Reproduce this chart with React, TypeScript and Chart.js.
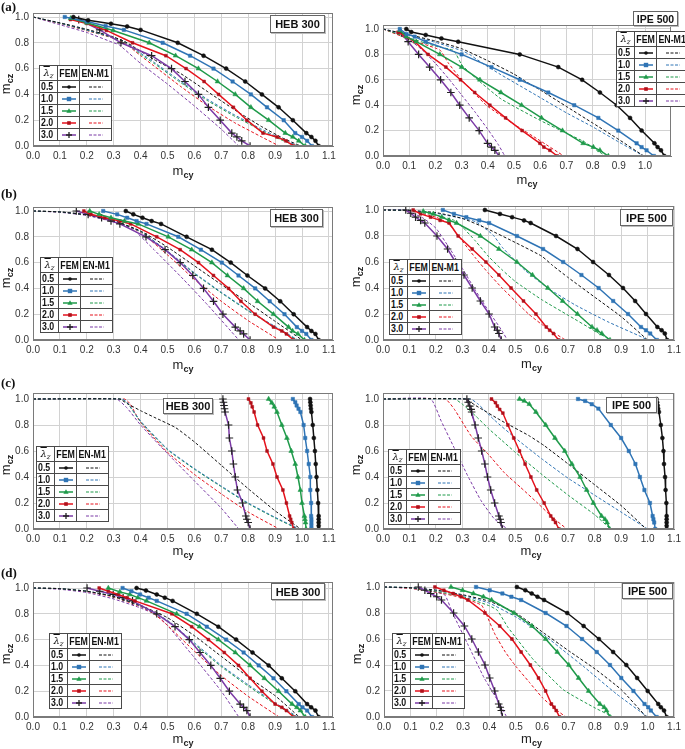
import React, { useEffect, useRef } from "react";
import { Chart, registerables } from "chart.js";
Chart.register(...registerables);

type Pt = [number, number];

const LAMBDAS = ["0.5", "1.0", "1.5", "2.0", "3.0"];
const COLORS = ["#111111", "#2f74b5", "#1f9a4a", "#e5121c", "#7b3aa6"];
const X_STEP = 0.1;
const Y_STEP = 0.2;

// ---------- (a) HEB 300 ----------
const femA_HEB: Pt[][] = [
  [[0.15,1.0],[0.205,0.974],[0.29,0.948],[0.35,0.927],[0.40,0.90],[0.538,0.80],[0.634,0.70],[0.718,0.60],[0.789,0.50],[0.851,0.40],[0.913,0.30],[0.966,0.20],[1.016,0.10],[1.035,0.07],[1.05,0.04],[1.062,0.0]],
  [[0.118,1.0],[0.2,0.965],[0.27,0.93],[0.338,0.90],[0.482,0.80],[0.584,0.70],[0.671,0.60],[0.742,0.50],[0.81,0.40],[0.87,0.30],[0.932,0.20],[0.975,0.10],[1.0,0.07],[1.019,0.04],[1.037,0]],
  [[0.14,0.99],[0.2,0.955],[0.298,0.896],[0.432,0.80],[0.53,0.70],[0.615,0.60],[0.686,0.50],[0.752,0.40],[0.81,0.30],[0.876,0.20],[0.938,0.10],[0.966,0.07],[0.988,0.04],[1.012,0]],
  [[0.139,0.98],[0.2,0.95],[0.273,0.896],[0.37,0.80],[0.494,0.70],[0.569,0.60],[0.636,0.50],[0.69,0.40],[0.745,0.30],[0.795,0.20],[0.855,0.10],[0.907,0.07],[0.94,0.04],[0.969,0]],
  [[0.17,0.98],[0.248,0.90],[0.327,0.80],[0.441,0.70],[0.515,0.60],[0.565,0.50],[0.615,0.40],[0.652,0.30],[0.696,0.20],[0.739,0.10],[0.758,0.07],[0.776,0.04],[0.807,0]],
];
const enA_HEB: Pt[][] = [
  [[0,1],[0.1,0.955],[0.2,0.905],[0.3,0.845],[0.35,0.80],[0.45,0.67],[0.55,0.56],[0.65,0.42],[0.75,0.28],[0.85,0.15],[0.93,0.06],[0.995,0]],
  [[0,1],[0.1,0.953],[0.2,0.9],[0.3,0.84],[0.34,0.81],[0.4,0.72],[0.45,0.65],[0.55,0.50],[0.65,0.36],[0.75,0.24],[0.85,0.13],[0.92,0.06],[0.985,0]],
  [[0,1],[0.1,0.952],[0.2,0.898],[0.3,0.838],[0.34,0.805],[0.4,0.71],[0.45,0.64],[0.55,0.49],[0.65,0.35],[0.75,0.23],[0.85,0.12],[0.92,0.05],[0.98,0]],
  [[0,1],[0.1,0.95],[0.2,0.895],[0.3,0.835],[0.34,0.80],[0.4,0.70],[0.45,0.62],[0.55,0.46],[0.65,0.31],[0.75,0.18],[0.85,0.07],[0.915,0]],
  [[0,1],[0.1,0.94],[0.2,0.88],[0.3,0.80],[0.32,0.785],[0.4,0.64],[0.5,0.48],[0.6,0.31],[0.7,0.13],[0.765,0]],
];

// ---------- (a) IPE 500 ----------
const femA_IPE: Pt[][] = [
  [[0.089,1.0],[0.108,0.976],[0.163,0.953],[0.223,0.926],[0.287,0.90],[0.522,0.80],[0.669,0.70],[0.76,0.60],[0.828,0.50],[0.892,0.40],[0.943,0.30],[0.987,0.20],[1.036,0.10],[1.048,0.07],[1.061,0.045],[1.074,0]],
  [[0.064,1.0],[0.09,0.96],[0.121,0.94],[0.163,0.90],[0.30,0.80],[0.414,0.70],[0.522,0.60],[0.631,0.50],[0.73,0.40],[0.822,0.30],[0.898,0.20],[0.968,0.10],[0.987,0.07],[1.006,0.045],[1.034,0]],
  [[0.064,0.99],[0.089,0.94],[0.127,0.90],[0.217,0.80],[0.30,0.70],[0.37,0.60],[0.45,0.50],[0.529,0.40],[0.605,0.30],[0.685,0.20],[0.764,0.10],[0.803,0.07],[0.828,0.045],[0.86,0]],
  [[0.057,0.974],[0.089,0.94],[0.121,0.90],[0.172,0.80],[0.24,0.70],[0.296,0.60],[0.35,0.50],[0.408,0.40],[0.468,0.30],[0.531,0.20],[0.599,0.10],[0.614,0.07],[0.637,0.045],[0.665,0]],
  [[0.07,0.968],[0.096,0.90],[0.136,0.80],[0.178,0.70],[0.22,0.60],[0.259,0.50],[0.293,0.40],[0.329,0.30],[0.367,0.20],[0.399,0.10],[0.414,0.07],[0.427,0.045],[0.443,0]],
];
const enA_IPE: Pt[][] = [
  [[0,1],[0.1,0.955],[0.2,0.905],[0.3,0.845],[0.4,0.75],[0.5,0.645],[0.55,0.58],[0.6,0.52],[0.7,0.39],[0.8,0.26],[0.9,0.13],[0.995,0]],
  [[0,1],[0.1,0.95],[0.2,0.895],[0.3,0.83],[0.33,0.80],[0.38,0.73],[0.45,0.64],[0.5,0.58],[0.6,0.46],[0.7,0.34],[0.8,0.23],[0.9,0.11],[0.995,0]],
  [[0,1],[0.1,0.93],[0.2,0.865],[0.27,0.83],[0.3,0.72],[0.35,0.62],[0.45,0.45],[0.6,0.28],[0.7,0.18],[0.77,0.11],[0.82,0.04],[0.85,0]],
  [[0,1],[0.1,0.92],[0.2,0.85],[0.22,0.83],[0.25,0.73],[0.3,0.60],[0.35,0.49],[0.4,0.39],[0.5,0.25],[0.6,0.12],[0.69,0]],
  [[0,1],[0.05,0.965],[0.1,0.915],[0.15,0.835],[0.2,0.73],[0.25,0.61],[0.3,0.48],[0.35,0.35],[0.4,0.21],[0.44,0.09],[0.465,0]],
];

// ---------- (b) HEB 300 ----------
const femB_HEB: Pt[][] = [
  [[0.345,1.0],[0.373,0.974],[0.407,0.948],[0.441,0.922],[0.476,0.90],[0.571,0.80],[0.665,0.70],[0.735,0.60],[0.797,0.50],[0.863,0.40],[0.919,0.30],[0.969,0.20],[1.019,0.10],[1.035,0.07],[1.05,0.047],[1.062,0]],
  [[0.261,1.0],[0.313,0.974],[0.35,0.948],[0.385,0.922],[0.422,0.90],[0.54,0.80],[0.624,0.70],[0.702,0.60],[0.764,0.50],[0.826,0.40],[0.88,0.30],[0.935,0.20],[0.981,0.10],[1.0,0.07],[1.016,0.047],[1.035,0]],
  [[0.211,1.0],[0.246,0.974],[0.29,0.948],[0.34,0.922],[0.391,0.90],[0.503,0.80],[0.59,0.70],[0.665,0.60],[0.723,0.50],[0.783,0.40],[0.835,0.30],[0.894,0.20],[0.95,0.10],[0.965,0.07],[0.985,0.047],[1.009,0]],
  [[0.189,1.0],[0.215,0.974],[0.267,0.948],[0.323,0.922],[0.363,0.90],[0.46,0.80],[0.547,0.70],[0.615,0.60],[0.671,0.50],[0.727,0.40],[0.773,0.30],[0.826,0.20],[0.894,0.10],[0.925,0.07],[0.942,0.047],[0.969,0]],
  [[0.161,1.0],[0.205,0.974],[0.255,0.948],[0.29,0.922],[0.323,0.90],[0.42,0.80],[0.491,0.70],[0.547,0.60],[0.594,0.50],[0.634,0.40],[0.671,0.30],[0.706,0.20],[0.752,0.10],[0.77,0.07],[0.783,0.047],[0.807,0]],
];
const enB_HEB: Pt[][] = [
  [[0,1],[0.1,0.993],[0.2,0.97],[0.3,0.925],[0.4,0.845],[0.5,0.72],[0.6,0.575],[0.7,0.43],[0.8,0.29],[0.9,0.145],[1.0,0]],
  [[0,1],[0.1,0.993],[0.2,0.97],[0.3,0.925],[0.4,0.84],[0.5,0.69],[0.6,0.52],[0.7,0.37],[0.8,0.23],[0.9,0.105],[0.985,0]],
  [[0,1],[0.1,0.993],[0.2,0.97],[0.3,0.925],[0.4,0.84],[0.5,0.685],[0.6,0.515],[0.7,0.365],[0.8,0.225],[0.9,0.10],[0.98,0]],
  [[0,1],[0.1,0.993],[0.2,0.97],[0.3,0.925],[0.4,0.835],[0.5,0.66],[0.6,0.47],[0.7,0.30],[0.8,0.15],[0.915,0]],
  [[0,1],[0.1,0.99],[0.2,0.965],[0.3,0.915],[0.37,0.86],[0.45,0.70],[0.55,0.49],[0.65,0.27],[0.765,0]],
];

// ---------- (b) IPE 500 ----------
const femB_IPE: Pt[][] = [
  [[0.385,1.0],[0.442,0.97],[0.488,0.945],[0.533,0.92],[0.558,0.9],[0.654,0.8],[0.735,0.7],[0.794,0.6],[0.854,0.5],[0.907,0.4],[0.953,0.3],[0.994,0.2],[1.037,0.1],[1.053,0.075],[1.065,0.05],[1.074,0]],
  [[0.226,1.0],[0.268,0.97],[0.315,0.945],[0.364,0.92],[0.401,0.9],[0.506,0.8],[0.605,0.7],[0.681,0.6],[0.75,0.5],[0.815,0.4],[0.87,0.3],[0.926,0.2],[0.975,0.1],[0.994,0.075],[1.01,0.05],[1.035,0]],
  [[0.152,0.99],[0.19,0.97],[0.222,0.945],[0.25,0.92],[0.278,0.9],[0.368,0.8],[0.438,0.7],[0.506,0.6],[0.565,0.5],[0.623,0.4],[0.679,0.3],[0.735,0.2],[0.79,0.1],[0.809,0.075],[0.827,0.05],[0.858,0]],
  [[0.114,1.0],[0.142,0.97],[0.18,0.945],[0.216,0.92],[0.25,0.9],[0.284,0.8],[0.337,0.7],[0.389,0.6],[0.438,0.5],[0.484,0.4],[0.531,0.3],[0.578,0.2],[0.617,0.1],[0.63,0.075],[0.644,0.05],[0.664,0]],
  [[0.086,1.0],[0.105,0.975],[0.123,0.945],[0.142,0.92],[0.158,0.9],[0.204,0.8],[0.244,0.7],[0.274,0.6],[0.306,0.5],[0.337,0.4],[0.368,0.3],[0.401,0.2],[0.422,0.1],[0.432,0.075],[0.438,0.05],[0.447,0]],
];
const enB_IPE: Pt[][] = [
  [[0,1],[0.1,0.997],[0.2,0.98],[0.3,0.935],[0.39,0.86],[0.5,0.75],[0.6,0.645],[0.64,0.575],[0.7,0.48],[0.8,0.33],[0.9,0.18],[1.0,0]],
  [[0,1],[0.1,0.997],[0.2,0.975],[0.3,0.935],[0.35,0.91],[0.415,0.81],[0.452,0.71],[0.54,0.53],[0.63,0.39],[0.726,0.27],[0.85,0.14],[0.975,0.026],[1.0,0]],
  [[0,1],[0.1,0.995],[0.2,0.96],[0.27,0.92],[0.3,0.87],[0.35,0.76],[0.4,0.64],[0.45,0.54],[0.5,0.45],[0.6,0.31],[0.7,0.19],[0.8,0.07],[0.86,0]],
  [[0,1],[0.1,0.993],[0.2,0.945],[0.25,0.89],[0.3,0.76],[0.35,0.63],[0.4,0.51],[0.45,0.40],[0.5,0.30],[0.55,0.20],[0.6,0.12],[0.65,0.05],[0.69,0]],
  [[0,1],[0.08,1.0],[0.15,0.94],[0.2,0.86],[0.25,0.71],[0.3,0.55],[0.35,0.38],[0.4,0.22],[0.45,0.07],[0.47,0]],
];

// ---------- (c) HEB 300 ----------
const femC_HEB: Pt[][] = [
  [[1.03,1.0],[1.031,0.975],[1.032,0.95],[1.033,0.925],[1.035,0.9],[1.04,0.8],[1.044,0.7],[1.048,0.6],[1.051,0.5],[1.054,0.4],[1.057,0.3],[1.06,0.2],[1.062,0.1],[1.062,0.075],[1.062,0.05],[1.062,0.025],[1.062,0]],
  [[0.966,1.0],[0.975,0.975],[0.98,0.95],[0.987,0.925],[0.994,0.9],[1.006,0.8],[1.012,0.7],[1.019,0.6],[1.025,0.5],[1.031,0.4],[1.031,0.3],[1.034,0.2],[1.034,0.1],[1.035,0.075],[1.035,0.05],[1.035,0.025],[1.035,0]],
  [[0.876,1.0],[0.888,0.97],[0.897,0.94],[0.907,0.9],[0.925,0.8],[0.944,0.7],[0.96,0.6],[0.975,0.5],[0.985,0.4],[0.994,0.3],[1.0,0.2],[1.009,0.1],[1.011,0.075],[1.013,0.05],[1.015,0]],
  [[0.801,1.0],[0.81,0.97],[0.815,0.94],[0.822,0.9],[0.835,0.8],[0.857,0.7],[0.87,0.6],[0.892,0.5],[0.907,0.4],[0.929,0.3],[0.942,0.2],[0.954,0.1],[0.958,0.075],[0.962,0.05],[0.969,0]],
  [[0.706,1.0],[0.708,0.975],[0.71,0.95],[0.712,0.925],[0.714,0.9],[0.727,0.8],[0.73,0.7],[0.739,0.6],[0.745,0.5],[0.752,0.4],[0.76,0.3],[0.779,0.2],[0.791,0.1],[0.795,0.075],[0.8,0.05],[0.807,0]],
];
const enC_HEB: Pt[][] = [
  [[0,1],[0.32,1],[0.35,0.965],[0.4,0.91],[0.45,0.86],[0.53,0.78],[0.6,0.67],[0.7,0.49],[0.8,0.31],[0.9,0.14],[0.995,0]],
  [[0,1],[0.33,1],[0.35,0.975],[0.4,0.83],[0.5,0.615],[0.6,0.465],[0.7,0.33],[0.8,0.20],[0.9,0.09],[0.99,0]],
  [[0,1],[0.33,1],[0.35,0.97],[0.4,0.825],[0.5,0.61],[0.6,0.46],[0.7,0.325],[0.8,0.195],[0.9,0.085],[0.985,0]],
  [[0,1],[0.34,1],[0.36,0.965],[0.4,0.82],[0.5,0.59],[0.6,0.42],[0.7,0.27],[0.8,0.13],[0.915,0]],
  [[0,1],[0.31,1],[0.35,0.93],[0.4,0.80],[0.5,0.58],[0.6,0.37],[0.7,0.16],[0.765,0]],
];

// ---------- (c) IPE 500 ----------
const femC_IPE: Pt[][] = [
  [[1.034,1.0],[1.036,0.975],[1.038,0.95],[1.04,0.925],[1.043,0.9],[1.05,0.8],[1.056,0.7],[1.06,0.6],[1.062,0.5],[1.066,0.4],[1.068,0.3],[1.071,0.2],[1.072,0.1],[1.072,0.075],[1.072,0.05],[1.072,0.025],[1.072,0]],
  [[0.737,1.0],[0.764,0.985],[0.789,0.96],[0.814,0.926],[0.861,0.8],[0.9,0.7],[0.929,0.6],[0.954,0.5],[0.971,0.4],[0.988,0.3],[1.009,0.2],[1.019,0.1],[1.022,0.075],[1.025,0.05],[1.029,0]],
  [[0.516,1.0],[0.534,0.985],[0.553,0.96],[0.578,0.9],[0.615,0.8],[0.65,0.7],[0.687,0.6],[0.714,0.5],[0.745,0.4],[0.77,0.3],[0.795,0.2],[0.826,0.1],[0.839,0.075],[0.847,0.05],[0.857,0]],
  [[0.41,1.0],[0.425,0.972],[0.432,0.946],[0.441,0.92],[0.453,0.892],[0.472,0.8],[0.494,0.7],[0.516,0.6],[0.537,0.5],[0.559,0.4],[0.581,0.3],[0.609,0.2],[0.634,0.1],[0.643,0.075],[0.652,0.05],[0.665,0]],
  [[0.317,1.0],[0.322,0.975],[0.328,0.945],[0.333,0.92],[0.335,0.9],[0.348,0.8],[0.36,0.7],[0.373,0.6],[0.385,0.5],[0.395,0.4],[0.407,0.3],[0.422,0.2],[0.438,0.1],[0.443,0.075],[0.446,0.05],[0.451,0]],
];
const enC_IPE: Pt[][] = [
  [[0,1],[0.31,1],[0.35,0.95],[0.45,0.83],[0.55,0.72],[0.61,0.64],[0.7,0.50],[0.8,0.34],[0.9,0.18],[0.995,0]],
  [[0,1],[0.33,1],[0.36,0.96],[0.42,0.84],[0.5,0.70],[0.6,0.54],[0.7,0.39],[0.8,0.26],[0.9,0.13],[1.0,0]],
  [[0,1],[0.27,1],[0.3,0.96],[0.35,0.87],[0.4,0.77],[0.45,0.68],[0.5,0.59],[0.6,0.42],[0.7,0.26],[0.8,0.11],[0.86,0]],
  [[0,1],[0.235,1],[0.27,0.92],[0.335,0.71],[0.4,0.57],[0.46,0.43],[0.52,0.32],[0.584,0.2],[0.64,0.09],[0.695,0]],
  [[0,1],[0.18,1],[0.22,0.83],[0.27,0.62],[0.32,0.41],[0.37,0.22],[0.42,0.08],[0.47,0]],
];

// ---------- (d) HEB 300 ----------
const femD_HEB: Pt[][] = [
  [[0.385,1.0],[0.42,0.98],[0.46,0.95],[0.49,0.925],[0.519,0.9],[0.609,0.8],[0.689,0.7],[0.755,0.6],[0.816,0.5],[0.876,0.4],[0.925,0.3],[0.975,0.2],[1.019,0.1],[1.034,0.075],[1.05,0.05],[1.062,0]],
  [[0.333,1.0],[0.366,0.975],[0.398,0.95],[0.43,0.925],[0.46,0.9],[0.571,0.8],[0.646,0.7],[0.718,0.6],[0.783,0.5],[0.839,0.4],[0.894,0.3],[0.942,0.2],[0.988,0.1],[1.002,0.075],[1.019,0.05],[1.037,0]],
  [[0.28,1.0],[0.323,0.97],[0.36,0.95],[0.39,0.925],[0.422,0.9],[0.534,0.8],[0.619,0.7],[0.689,0.6],[0.752,0.5],[0.807,0.4],[0.86,0.3],[0.913,0.2],[0.963,0.1],[0.981,0.075],[0.994,0.05],[1.012,0]],
  [[0.246,1.0],[0.28,0.975],[0.317,0.95],[0.35,0.925],[0.379,0.9],[0.516,0.8],[0.59,0.7],[0.652,0.6],[0.711,0.5],[0.764,0.4],[0.807,0.3],[0.851,0.2],[0.9,0.1],[0.925,0.075],[0.942,0.05],[0.969,0]],
  [[0.201,1.0],[0.248,0.975],[0.298,0.95],[0.335,0.925],[0.37,0.9],[0.46,0.8],[0.528,0.7],[0.581,0.6],[0.621,0.5],[0.661,0.4],[0.696,0.3],[0.73,0.2],[0.77,0.1],[0.783,0.075],[0.795,0.05],[0.807,0]],
];
const enD_HEB: Pt[][] = [
  [[0,1],[0.1,0.995],[0.2,0.975],[0.3,0.935],[0.4,0.865],[0.5,0.77],[0.6,0.63],[0.7,0.47],[0.8,0.31],[0.9,0.165],[0.99,0]],
  [[0,1],[0.1,0.995],[0.2,0.975],[0.3,0.935],[0.4,0.86],[0.5,0.75],[0.6,0.575],[0.7,0.40],[0.8,0.25],[0.9,0.11],[0.985,0]],
  [[0,1],[0.1,0.995],[0.2,0.975],[0.3,0.935],[0.4,0.86],[0.5,0.745],[0.6,0.565],[0.7,0.39],[0.8,0.24],[0.9,0.10],[0.98,0]],
  [[0,1],[0.1,0.995],[0.2,0.973],[0.3,0.93],[0.4,0.855],[0.45,0.80],[0.5,0.71],[0.6,0.51],[0.7,0.32],[0.8,0.16],[0.915,0]],
  [[0,1],[0.1,0.99],[0.2,0.965],[0.3,0.915],[0.4,0.845],[0.46,0.79],[0.5,0.71],[0.6,0.46],[0.7,0.2],[0.765,0]],
];

// ---------- (d) IPE 500 ----------
const femD_IPE: Pt[][] = [
  [[0.504,1.0],[0.536,0.975],[0.56,0.95],[0.582,0.925],[0.607,0.9],[0.695,0.8],[0.757,0.7],[0.815,0.6],[0.869,0.5],[0.919,0.4],[0.96,0.3],[1.0,0.2],[1.04,0.1],[1.05,0.075],[1.062,0.05],[1.072,0]],
  [[0.349,1.0],[0.401,0.975],[0.449,0.95],[0.483,0.925],[0.52,0.9],[0.613,0.8],[0.692,0.7],[0.751,0.6],[0.807,0.5],[0.857,0.4],[0.9,0.3],[0.946,0.2],[0.988,0.1],[1.002,0.075],[1.012,0.05],[1.034,0]],
  [[0.254,1.0],[0.298,0.975],[0.339,0.95],[0.377,0.925],[0.408,0.9],[0.493,0.8],[0.561,0.7],[0.613,0.6],[0.657,0.5],[0.701,0.4],[0.738,0.3],[0.776,0.2],[0.819,0.1],[0.835,0.075],[0.844,0.05],[0.857,0]],
  [[0.193,1.0],[0.227,0.975],[0.262,0.95],[0.293,0.925],[0.318,0.9],[0.383,0.8],[0.439,0.7],[0.485,0.6],[0.52,0.5],[0.555,0.4],[0.586,0.3],[0.613,0.2],[0.635,0.1],[0.645,0.075],[0.653,0.05],[0.666,0]],
  [[0.13,1.0],[0.155,0.975],[0.177,0.95],[0.2,0.925],[0.218,0.9],[0.264,0.8],[0.305,0.7],[0.333,0.6],[0.358,0.5],[0.383,0.4],[0.401,0.3],[0.42,0.2],[0.435,0.1],[0.441,0.075],[0.445,0.05],[0.449,0]],
];
const enD_IPE: Pt[][] = [
  [[0,1],[0.1,0.995],[0.2,0.975],[0.3,0.94],[0.4,0.89],[0.5,0.80],[0.6,0.655],[0.7,0.51],[0.8,0.37],[0.9,0.21],[0.995,0]],
  [[0,1],[0.1,0.995],[0.2,0.975],[0.3,0.935],[0.4,0.875],[0.5,0.77],[0.607,0.63],[0.7,0.48],[0.756,0.39],[0.88,0.18],[1.0,0]],
  [[0,1],[0.1,0.993],[0.2,0.965],[0.3,0.925],[0.4,0.855],[0.43,0.82],[0.47,0.69],[0.567,0.44],[0.68,0.21],[0.8,0.07],[0.87,0]],
  [[0,1],[0.1,0.99],[0.2,0.96],[0.3,0.915],[0.37,0.86],[0.39,0.78],[0.42,0.64],[0.46,0.50],[0.5,0.39],[0.55,0.27],[0.6,0.15],[0.65,0.06],[0.69,0]],
  [[0,1],[0.1,0.99],[0.17,0.97],[0.23,0.94],[0.26,0.80],[0.32,0.55],[0.38,0.30],[0.445,0.08],[0.465,0]],
];

// ---------- layout ----------
const FONT = '"Liberation Sans", Arial, Helvetica, sans-serif';
const YW = 26; // y tick area width
const XH = 14; // x tick area height

interface Geom {
  cx: number; cw: number;
  x0: number; x1: number; frameR: number;
  y0: number; y1: number; frameT: number;
}

interface PanelDef {
  key: string;
  fem: Pt[][];
  en: Pt[][];
  g: Geom;
  title: string;
  box: [number, number, number, number, number];
  legend: [number, number];
  xTitleDy: number;
  label?: [string, number];
}

const PANELS: PanelDef[] = [
  { key: "aL", fem: femA_HEB, en: enA_HEB, title: "HEB 300",
    g: { cx: 0, cw: 345, x0: 33, x1: 302, frameR: 333, y0: 146, y1: 17, frameT: 13 },
    box: [270, 15, 55, 18, 11], legend: [39, 65], xTitleDy: 25, label: ["(a)", 0] },
  { key: "aR", fem: femA_IPE, en: enA_IPE, title: "IPE 500",
    g: { cx: 340, cw: 345, x0: 383, x1: 645, frameR: 671, y0: 156, y1: 29, frameT: 25 },
    box: [633, 11, 45, 15, 10.5], legend: [616, 31], xTitleDy: 24 },
  { key: "bL", fem: femB_HEB, en: enB_HEB, title: "HEB 300",
    g: { cx: 0, cw: 345, x0: 33, x1: 302, frameR: 333, y0: 340, y1: 211, frameT: 207 },
    box: [270, 209, 53, 18, 11], legend: [40, 257], xTitleDy: 25, label: ["(b)", 187] },
  { key: "bR", fem: femB_IPE, en: enB_IPE, title: "IPE 500",
    g: { cx: 340, cw: 345, x0: 383, x1: 653, frameR: 680, y0: 340, y1: 210, frameT: 206 },
    box: [620, 209, 53, 17, 11.5], legend: [389, 259], xTitleDy: 24 },
  { key: "cL", fem: femC_HEB, en: enC_HEB, title: "HEB 300",
    g: { cx: 0, cw: 345, x0: 33, x1: 302, frameR: 333, y0: 529, y1: 399, frameT: 393 },
    box: [163, 398, 50, 16, 11], legend: [36, 446], xTitleDy: 22, label: ["(c)", 376] },
  { key: "cR", fem: femC_IPE, en: enC_IPE, title: "IPE 500",
    g: { cx: 340, cw: 345, x0: 383, x1: 652, frameR: 679, y0: 529, y1: 399, frameT: 393 },
    box: [606, 397, 51, 16, 11], legend: [388, 449], xTitleDy: 22 },
  { key: "dL", fem: femD_HEB, en: enD_HEB, title: "HEB 300",
    g: { cx: 0, cw: 345, x0: 33, x1: 302, frameR: 333, y0: 717, y1: 588, frameT: 582 },
    box: [271, 583, 54, 17, 11], legend: [49, 633], xTitleDy: 22, label: ["(d)", 566] },
  { key: "dR", fem: femD_IPE, en: enD_IPE, title: "IPE 500",
    g: { cx: 340, cw: 345, x0: 384, x1: 652, frameR: 679, y0: 717, y1: 587, frameT: 582 },
    box: [622, 583, 51, 16, 11], legend: [392, 633], xTitleDy: 22 },
];

const POINT_STYLES = ["circle", "rect", "triangle", "rect", "cross"];
const POINT_RADII = [2, 2.4, 2.8, 2, 3.8];
const POINT_BG = ["#111111", "#2f74b5", "#1f9a4a", "#b0101a", "#222222"];

const framePlugin = {
  id: "frameBox",
  afterDatasetsDraw(chart: any) {
    const { ctx, chartArea } = chart;
    const { left, top, right, bottom } = chartArea;
    ctx.save();
    ctx.strokeStyle = "#7a7a7a";
    ctx.lineWidth = 1;
    ctx.strokeRect(Math.round(left) + 0.5, Math.round(top) + 0.5, Math.round(right - left) - 1, Math.round(bottom - top) - 1);
    ctx.restore();
  },
};

function PanelChart({ p }: { p: PanelDef }) {
  const ref = useRef<HTMLCanvasElement | null>(null);
  const g = p.g;
  const canvasTop = g.frameT - 12;
  const canvasH = g.y0 - canvasTop + 30;
  useEffect(() => {
    if (!ref.current) return;
    const xmax = (g.frameR - g.x0) / (g.x1 - g.x0);
    const ymax = (g.y0 - g.frameT) / (g.y0 - g.y1);
    const datasets: any[] = [];
    p.fem.forEach((pts, i) => {
      datasets.push({
        data: pts.map(([x, y]) => ({ x, y })),
        showLine: true,
        borderColor: COLORS[i],
        backgroundColor: POINT_BG[i],
        borderWidth: 1.5,
        pointStyle: POINT_STYLES[i],
        pointRadius: POINT_RADII[i],
        pointBackgroundColor: POINT_BG[i],
        pointBorderColor: POINT_BG[i],
        pointBorderWidth: i === 4 ? 1.2 : 0.5,
        tension: 0,
      });
    });
    p.en.forEach((pts, i) => {
      datasets.push({
        data: pts.map(([x, y]) => ({ x, y })),
        showLine: true,
        borderColor: COLORS[i],
        borderWidth: 1,
        borderDash: [3, 2],
        pointRadius: 0,
        tension: 0.15,
      });
    });
    const tickFont = { family: FONT, size: 10 };
    const chart = new Chart(ref.current, {
      type: "scatter",
      data: { datasets },
      options: {
        animation: false,
        responsive: false,
        events: [],
        plugins: { legend: { display: false }, tooltip: { enabled: false } },
        layout: {
          padding: {
            left: g.x0 - g.cx - YW,
            top: g.frameT - canvasTop,
            right: g.cx + g.cw - g.frameR,
            bottom: canvasTop + canvasH - g.y0 - XH,
          },
        },
        scales: {
          x: {
            type: "linear",
            min: 0,
            max: xmax,
            grid: { color: "#d2d2d2", drawTicks: false },
            border: { color: "#7a7a7a" },
            ticks: {
              stepSize: X_STEP,
              includeBounds: false,
              padding: 4,
              autoSkip: false,
              maxRotation: 0,
              color: "#333",
              font: tickFont,
              callback: (v: any) => Number(v).toFixed(1),
            },
            afterFit: (s: any) => { s.height = XH; },
          },
          y: {
            type: "linear",
            min: 0,
            max: ymax,
            grid: { color: "#d2d2d2", drawTicks: false },
            border: { color: "#7a7a7a" },
            ticks: {
              stepSize: Y_STEP,
              includeBounds: false,
              padding: 4,
              autoSkip: false,
              color: "#333",
              font: tickFont,
              callback: (v: any) => Number(v).toFixed(1),
            },
            afterFit: (s: any) => { s.width = YW; },
          },
        },
      } as any,
      plugins: [framePlugin],
    });
    return () => chart.destroy();
  }, []);
  return (
    <canvas
      ref={ref}
      width={g.cw}
      height={canvasH}
      style={{ position: "absolute", left: g.cx, top: canvasTop, width: g.cw, height: canvasH }}
    />
  );
}

function FemSample({ i }: { i: number }) {
  const c = COLORS[i];
  const cx = 8, cy = 4;
  let m: any;
  if (i === 0) m = <circle cx={cx} cy={cy} r={1.8} fill={POINT_BG[0]} />;
  else if (i === 1) m = <rect x={cx - 2.2} y={cy - 2.2} width={4.4} height={4.4} fill={POINT_BG[1]} />;
  else if (i === 2) m = <polygon points={`${cx},${cy - 2.8} ${cx + 2.6},${cy + 1.8} ${cx - 2.6},${cy + 1.8}`} fill={POINT_BG[2]} />;
  else if (i === 3) m = <rect x={cx - 1.8} y={cy - 1.8} width={3.6} height={3.6} fill={POINT_BG[3]} />;
  else m = <path d={`M${cx - 3},${cy}H${cx + 3}M${cx},${cy - 3}V${cy + 3}`} stroke="#222" strokeWidth={1.3} />;
  return (
    <svg width={16} height={8} style={{ display: "block", margin: "0 auto" }}>
      <line x1={1} y1={cy} x2={15} y2={cy} stroke={c} strokeWidth={1.5} />
      {m}
    </svg>
  );
}

function EnSample({ i }: { i: number }) {
  return (
    <svg width={16} height={8} style={{ display: "block", margin: "0 auto" }}>
      <line x1={1} y1={4} x2={15} y2={4} stroke={COLORS[i]} strokeWidth={1} strokeDasharray="3,1.5" />
    </svg>
  );
}

function Narrow({ children, origin = "center" }: { children: any; origin?: string }) {
  return (
    <div style={{ display: "flex", justifyContent: origin === "left" ? "flex-start" : "center", width: "100%" }}>
      <span style={{ display: "inline-block", flex: "none", transform: "scaleX(0.8)", transformOrigin: origin === "left" ? "left center" : "center center" }}>
        {children}
      </span>
    </div>
  );
}

function LegendTable({ left, top }: { left: number; top: number }) {
  const bd = "1.5px solid #4a4a4a";
  const cell: React.CSSProperties = { border: bd, padding: 0, textAlign: "center", verticalAlign: "middle", overflow: "hidden", whiteSpace: "nowrap" };
  return (
    <table
      style={{
        position: "absolute", left, top, borderCollapse: "collapse", background: "#fff",
        tableLayout: "fixed", width: 72, fontFamily: FONT, fontWeight: "bold", fontSize: 11,
        lineHeight: "11px", color: "#111",
      }}
    >
      <colgroup>
        <col style={{ width: 18 }} />
        <col style={{ width: 22 }} />
        <col style={{ width: 32 }} />
      </colgroup>
      <tbody>
        <tr style={{ height: 15 }}>
          <td style={cell}>
            <span style={{ fontFamily: '"DejaVu Serif", serif', fontStyle: "italic", fontWeight: "normal", textDecoration: "overline", fontSize: 10 }}>λ</span>
            <span style={{ fontFamily: '"DejaVu Serif", serif', fontStyle: "italic", fontWeight: "normal", fontSize: 7, position: "relative", top: 2 }}>z</span>
          </td>
          <td style={cell}><Narrow>FEM</Narrow></td>
          <td style={cell}><Narrow>EN-M1</Narrow></td>
        </tr>
        {LAMBDAS.map((l, i) => (
          <tr key={l} style={{ height: 12 }}>
            <td style={{ ...cell, textAlign: "left", paddingLeft: 1 }}><Narrow origin="left">{l}</Narrow></td>
            <td style={cell}><FemSample i={i} /></td>
            <td style={cell}><EnSample i={i} /></td>
          </tr>
        ))}
      </tbody>
    </table>
  );
}

function Overlays({ p }: { p: PanelDef }) {
  const g = p.g;
  const midX = (g.x0 + g.frameR) / 2;
  const midY = (g.frameT + g.y0) / 2 + 4;
  const [bl, bt, bw, bh, bf] = p.box;
  return (
    <>
      <div style={{ position: "absolute", left: midX, top: g.y0 + p.xTitleDy, transform: "translate(-50%,-50%)", fontFamily: FONT, fontSize: 13, color: "#222", whiteSpace: "nowrap", lineHeight: "14px" }}>
        m<span style={{ fontSize: 9, fontWeight: "bold", position: "relative", top: 3 }}>cy</span>
      </div>
      <div style={{ position: "absolute", left: g.x0 - 27, top: midY, transform: "translate(-50%,-50%) rotate(-90deg)", fontFamily: FONT, fontSize: 13, color: "#222", whiteSpace: "nowrap", lineHeight: "14px" }}>
        m<span style={{ fontSize: 9, fontWeight: "bold", position: "relative", top: 3 }}>cz</span>
      </div>
      <div style={{ position: "absolute", left: bl, top: bt, width: bw, height: bh, boxSizing: "border-box", border: "1.5px solid #666", background: "#fff", boxShadow: "1px 1px 0 #bbb", display: "flex", alignItems: "center", justifyContent: "center", fontFamily: FONT, fontWeight: "bold", fontSize: bf, color: "#111", whiteSpace: "nowrap" }}>
        {p.title}
      </div>
      <LegendTable left={p.legend[0]} top={p.legend[1]} />
      {p.label && (
        <div style={{ position: "absolute", left: 1, top: p.label[1], fontFamily: '"Liberation Serif", "Times New Roman", serif', fontWeight: "bold", fontSize: 13, lineHeight: "14px", color: "#111" }}>
          {p.label[0]}
        </div>
      )}
    </>
  );
}

export default function App() {
  return (
    <div style={{ position: "absolute", left: 0, top: 0, width: 685, height: 749, overflow: "hidden", background: "#fff" }}>
      {PANELS.map((p) => (
        <PanelChart key={p.key} p={p} />
      ))}
      {PANELS.map((p) => (
        <Overlays key={p.key + "o"} p={p} />
      ))}
    </div>
  );
}
